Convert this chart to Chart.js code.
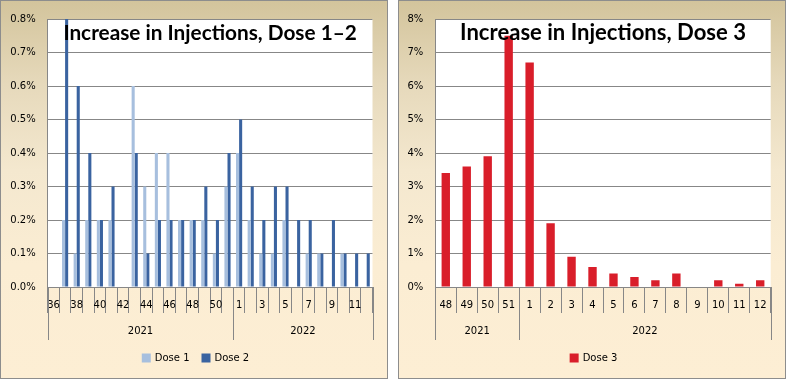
<!DOCTYPE html>
<html><head><meta charset="utf-8">
<script src="https://cdn.jsdelivr.net/npm/chart.js@4/dist/chart.umd.min.js"></script>
<style>
html,body{margin:0;padding:0;background:#fff;width:786px;height:379px;overflow:hidden}
.panel{position:absolute;top:0;width:388px;height:379px;box-sizing:border-box;border:1px solid #8d8d8d;
 background:linear-gradient(to bottom,#d3c49c 0%,#e6d9bb 22%,#f4e8cf 45%,#fbedd3 70%,#fdeed4 100%);}
.panel canvas{display:block}
</style></head><body>
<div class="panel" style="left:0"><canvas id="c1" width="386" height="377"></canvas></div>
<div class="panel" style="left:398px"><canvas id="c2" width="386" height="377"></canvas></div>
<script>
// ---- data ----
const weeks1_2021 = ['36','37','38','39','40','41','42','43','44','45','46','47','48','49','50','51'];
const weeks1_2022 = ['1','2','3','4','5','6','7','8','9','10','11','12'];
const dose1 = [0,0.2,0.1,0.2,0.2,0.2,0,0.6,0.3,0.4,0.4,0.2,0.2,0.2,0.1,0.3,
               0.4,0.2,0.1,0.1,0.2,0,0.1,0.1,0,0.1,0,0];
const dose2 = [0,0.8,0.6,0.4,0.2,0.3,0,0.4,0.1,0.2,0.2,0.2,0.2,0.3,0.2,0.4,
               0.5,0.3,0.2,0.3,0.3,0.2,0.2,0.1,0.2,0.1,0.1,0.1];
const weeks2_2021 = ['48','49','50','51'];
const weeks2_2022 = ['1','2','3','4','5','6','7','8','9','10','11','12'];
const dose3 = [3.4,3.6,3.9,7.5,6.7,1.9,0.9,0.6,0.4,0.3,0.2,0.4,0,0.2,0.1,0.2];
const title1 = 'Increase in Injections, Dose 1\u20132';
const title2 = 'Increase in Injections, Dose 3';

// ---- styling ----
const GRID = '#878787';
const TICKFONT = {family:'DejaVu Sans', size:10};

const insideTitle = {
  id:'insideTitle',
  afterDraw(chart, args, o){
    const ctx = chart.ctx, a = chart.chartArea;
    ctx.save();
    let size = 20;
    ctx.font = 'bold ' + size + 'px Lato';
    const w = ctx.measureText(o.text).width;
    size = size * o.width / w;
    ctx.font = 'bold ' + size.toFixed(2) + 'px Lato';
    ctx.fillStyle = '#000';
    ctx.textAlign = 'center';
    ctx.textBaseline = 'alphabetic';
    ctx.fillText(o.text, (a.left + a.right)/2, a.top + o.dy);
    ctx.restore();
  }
};
const plotBg = {
  id:'plotBg',
  beforeDraw(chart){
    const ctx = chart.ctx, a = chart.chartArea;
    ctx.save(); ctx.fillStyle = '#fff';
    ctx.fillRect(a.left, a.top, a.right - a.left, a.bottom - a.top);
    ctx.restore();
  }
};
const yearAxis = {
  id:'yearAxis',
  afterDraw(chart, args, o){
    const x = chart.scales.x, a = chart.chartArea, ctx = chart.ctx;
    const n = chart.data.labels.length;
    const edge = i => i <= 0 ? x.left : i >= n ? x.right :
      (x.getPixelForValue(i-1) + x.getPixelForValue(i)) / 2;
    ctx.save();
    ctx.strokeStyle = GRID; ctx.lineWidth = 1;
    ctx.font = '10px "DejaVu Sans"'; ctx.fillStyle = '#000';
    ctx.textAlign = 'center'; ctx.textBaseline = 'middle';
    let s = 0;
    const line = px => { const xx = Math.round(px) + 0.5; ctx.beginPath(); ctx.moveTo(xx, a.bottom); ctx.lineTo(xx, a.bottom + o.lineLen); ctx.stroke(); };
    o.groups.forEach(g => {
      const e = s + g[1];
      line(edge(s));
      ctx.fillText(g[0], (edge(s) + edge(e))/2, a.bottom + o.textDy);
      s = e;
    });
    line(edge(n));
    // legend
    const items = chart.data.datasets.map(d => ({label:d.label, color:d.backgroundColor}));
    const box = 9, gapT = 4, gapI = 12;
    const widths = items.map(it => box + gapT + ctx.measureText(it.label).width);
    const total = widths.reduce((p,c)=>p+c,0) + gapI*(items.length-1);
    let cx = chart.width/2 + o.legendDx - total/2;
    ctx.textAlign = 'left';
    items.forEach((it,i) => {
      ctx.fillStyle = it.color;
      ctx.fillRect(cx, o.legendY - box/2, box, box);
      ctx.fillStyle = '#000';
      ctx.fillText(it.label, cx + box + gapT, o.legendY);
      cx += widths[i] + gapI;
    });
    ctx.restore();
  }
};

function makeChart(id, labels, datasets, yOpts, yWidth, padRight, tickCb, groups, title, titleW, catPct){
  return new Chart(document.getElementById(id), {
    type:'bar',
    data:{labels, datasets},
    plugins:[plotBg, insideTitle, yearAxis],
    options:{
      responsive:false, animation:false, events:[],
      layout:{padding:{left:0, top:13.7, right:padRight, bottom:0}},
      datasets:{bar:{categoryPercentage:catPct, barPercentage:1}},
      plugins:{
        legend:{display:false}, tooltip:{enabled:false},
        insideTitle:{text:title, width:titleW, dy:21},
        yearAxis:{groups, lineLen:53, textDy:44, legendY:357, legendDx:1.5}
      },
      scales:{
        x:{
          grid:{display:true, drawOnChartArea:false, drawTicks:true, tickLength:26, color:GRID, offset:true},
          border:{display:true, color:GRID},
          ticks:{autoSkip:false, maxRotation:0, minRotation:0, padding:-14, color:'#000', font:TICKFONT, callback:tickCb},
          afterFit(s){ s.height = 91; }
        },
        y:Object.assign({
          grid:{color:GRID, drawTicks:false},
          border:{display:true, color:GRID},
          afterFit(s){ s.width = yWidth; }
        }, yOpts)
      }
    }
  });
}

const labels1 = weeks1_2021.concat(weeks1_2022);
makeChart('c1', labels1,
  [{label:'Dose 1', data:dose1, backgroundColor:'#a7bfde'},
   {label:'Dose 2', data:dose2, backgroundColor:'#3a63a0'}],
  {min:0, max:0.8, ticks:{stepSize:0.1, padding:12, color:'#000', font:TICKFONT, callback:v => v.toFixed(1) + '%'}},
  46.7, 14.5, (v,i) => i % 2 === 0 ? labels1[i] : '',
  [['2021', weeks1_2021.length], ['2022', weeks1_2022.length]], title1, 293.5, 0.53);

const labels2 = weeks2_2021.concat(weeks2_2022);
makeChart('c2', labels2,
  [{label:'Dose 3', data:dose3, backgroundColor:'#d91e2a'}],
  {min:0, max:8, ticks:{stepSize:1, padding:12, color:'#000', font:TICKFONT, callback:v => v + '%'}},
  36.3, 14.3, (v,i) => labels2[i],
  [['2021', weeks2_2021.length], ['2022', weeks2_2022.length]], title2, 286, 0.4);
</script>
</body></html>
